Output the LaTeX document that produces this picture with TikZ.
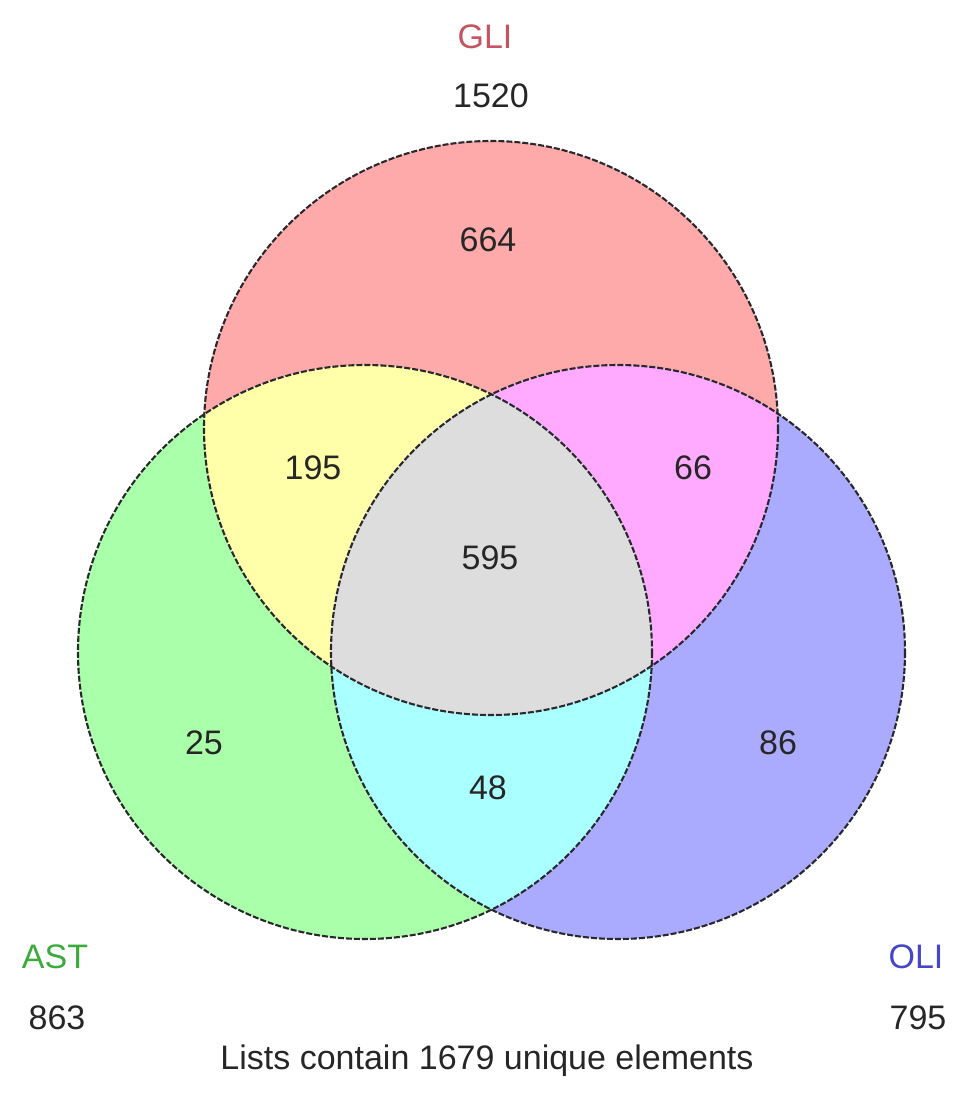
\documentclass[tikz,border=0pt]{standalone}
\usepackage{fontspec}
\setmainfont{Liberation Sans}
\definecolor{cG}{RGB}{255,170,170}
\definecolor{cA}{RGB}{170,255,170}
\definecolor{cO}{RGB}{170,170,255}
\definecolor{cGA}{RGB}{255,255,170}
\definecolor{cGO}{RGB}{255,170,255}
\definecolor{cAO}{RGB}{170,255,255}
\definecolor{cAll}{RGB}{221,221,221}
\definecolor{tG}{RGB}{196,84,96}
\definecolor{tA}{RGB}{60,170,60}
\definecolor{tO}{RGB}{70,70,200}
\definecolor{edge}{RGB}{40,40,45}
\begin{document}
\begin{tikzpicture}[x=1pt,y=-1pt,
  lbl/.style={font=\fontsize{34}{40}\selectfont, text=black!85, inner sep=0pt},
  outline/.style={draw=edge, line width=2.1pt, dash pattern=on 6pt off 2pt}]
\useasboundingbox (0,0) rectangle (969,1101);
\def\R{287}
\def\Gc{(491,428)}
\def\Ac{(365,652)}
\def\Oc{(618,652)}
% base fills
\fill[cG] \Gc circle (\R);
\fill[cA] \Ac circle (\R);
\fill[cO] \Oc circle (\R);
\begin{scope}
  \clip \Gc circle (\R);
  \fill[cGA] \Ac circle (\R);
  \fill[cGO] \Oc circle (\R);
\end{scope}
\begin{scope}
  \clip \Ac circle (\R);
  \fill[cAO] \Oc circle (\R);
\end{scope}
\begin{scope}
  \clip \Gc circle (\R);
  \clip \Ac circle (\R);
  \fill[cAll] \Oc circle (\R);
\end{scope}
\draw[outline] \Gc circle (\R);
\draw[outline] \Ac circle (\R);
\draw[outline] \Oc circle (\R);
% labels
\node[lbl, text=tG] (gli) at (485,37) {GLI};
\node[lbl] (gliN) at (491,96) {1520};
\node[lbl, text=tA] (ast) at (55,957) {AST};
\node[lbl] (astN) at (57,1018) {863};
\node[lbl, text=tO] (oli) at (916,957) {OLI};
\node[lbl] (oliN) at (918,1018) {795};
\node[lbl] (n664) at (488,240) {664};
\node[lbl] (n195) at (313,468) {195};
\node[lbl] (n66) at (693,468) {66};
\node[lbl] (n595) at (490,558) {595};
\node[lbl] (n25) at (204,743) {25};
\node[lbl] (n86) at (778,743) {86};
\node[lbl] (n48) at (488,788) {48};
\node[lbl, anchor=base] (total) at (487,1069) {Lists contain 1679 unique elements};
\end{tikzpicture}
\end{document}
